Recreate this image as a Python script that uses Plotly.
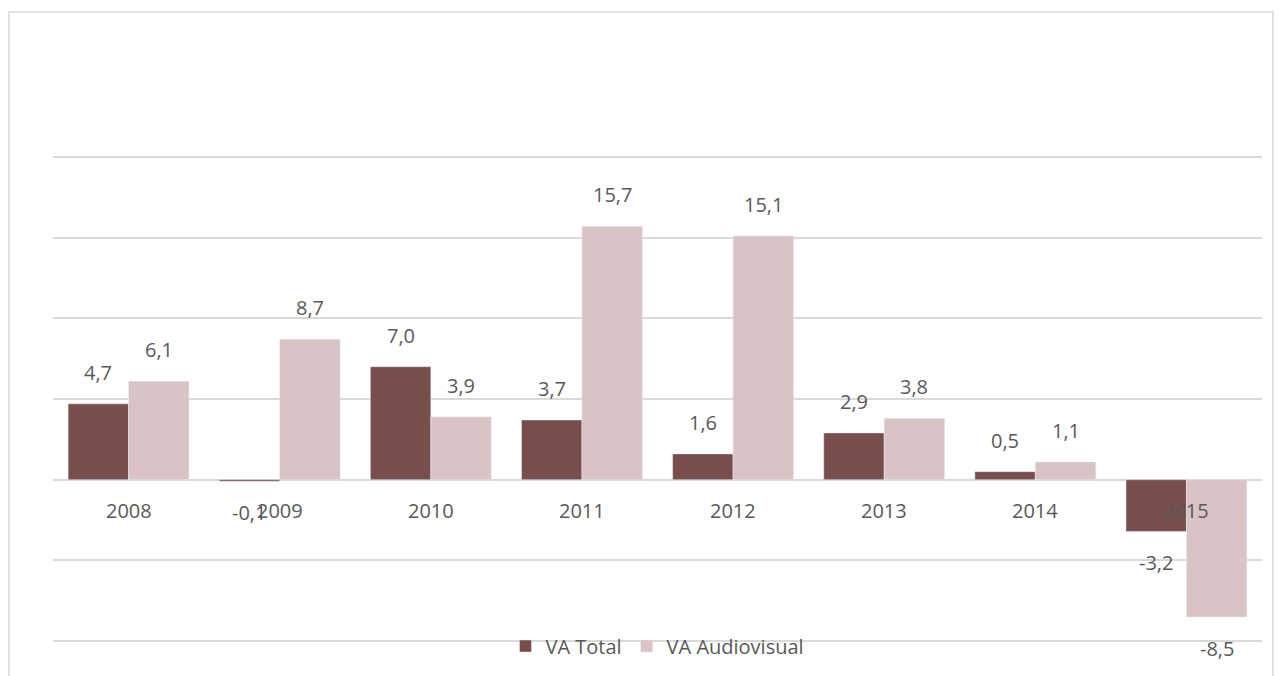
import plotly.graph_objects as go

anos = ['2008', '2009', '2010', '2011', '2012', '2013', '2014', '2015']
va_total = [4.7, -0.1, 7.0, 3.7, 1.6, 2.9, 0.5, -3.2]
va_audiovisual = [6.1, 8.7, 3.9, 15.7, 15.1, 3.8, 1.1, -8.5]

COR_TOTAL = '#774E4C'
COR_AUDIO = '#D9C3C4'
COR_TEXTO = '#595959'
FONTE = 'Open Sans'

fig = go.Figure()
fig.add_trace(go.Bar(x=anos, y=va_total, name='VA Total', marker_color=COR_TOTAL))
fig.add_trace(go.Bar(x=anos, y=va_audiovisual, name='VA Audiovisual', marker_color=COR_AUDIO))

# rótulos de dados (estilo Excel, afastados da barra)
anotacoes = []
for i, ano in enumerate(anos):
    for desloc, serie in ((-0.2, va_total), (0.2, va_audiovisual)):
        v = serie[i]
        anotacoes.append(dict(
            x=i + desloc, y=v, xref='x', yref='y',
            text=f'{v:.1f}'.replace('.', ','),
            showarrow=False,
            yanchor='bottom' if v >= 0 else 'top',
            yshift=16 if v >= 0 else -16,
            font=dict(family=FONTE, size=20, color=COR_TEXTO),
        ))
    # rótulo do ano logo abaixo da linha do zero
    anotacoes.append(dict(
        x=i, y=0, xref='x', yref='y', text=ano, showarrow=False,
        yanchor='top', yshift=-15,
        font=dict(family=FONTE, size=20, color=COR_TEXTO),
    ))

fig.update_layout(
    width=1282, height=676,
    # a página tem 8px de margem no body, compensado aqui
    margin=dict(l=45, r=28, t=144, b=38, autoexpand=False),
    paper_bgcolor='white', plot_bgcolor='white',
    barmode='group', bargap=0.2, bargroupgap=0,
    font=dict(family=FONTE, size=20, color=COR_TEXTO),
    xaxis=dict(showticklabels=False, showgrid=False, zeroline=False, showline=False,
               range=[-0.5, 7.5]),
    yaxis=dict(range=[-10.3, 20.3], tickvals=[-10, -5, 5, 10, 15, 20],
               showticklabels=False, showline=False,
               gridcolor='#D9D9D9', gridwidth=1.5,
               zeroline=True, zerolinecolor='#D9D9D9', zerolinewidth=1.5),
    legend=dict(orientation='h', x=0.5, xanchor='center', y=0, yanchor='middle',
                bgcolor='rgba(0,0,0,0)', font=dict(family=FONTE, size=20, color=COR_TEXTO),
                itemwidth=30),
    showlegend=True,
    annotations=anotacoes,
    shapes=[dict(type='rect', xref='paper', yref='paper',
                 x0=-0.0364, x1=1.009, y0=-0.1, y1=1.2834,
                 line=dict(color='#D9D9D9', width=1.5), layer='below')],
)

fig.write_html('out.html')
